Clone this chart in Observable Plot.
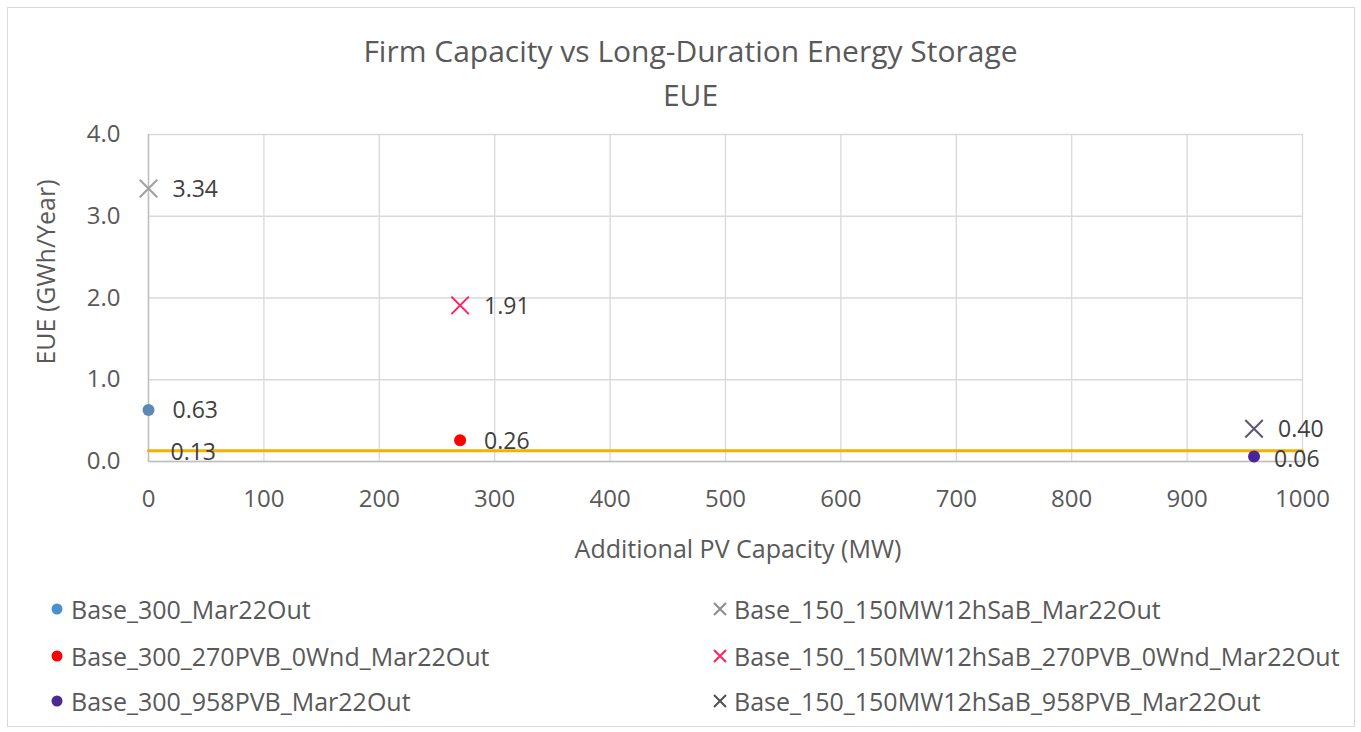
<!DOCTYPE html>
<html>
<head>
<meta charset="utf-8">
<script src="https://cdn.jsdelivr.net/npm/d3@7"></script>
<script src="https://cdn.jsdelivr.net/npm/@observablehq/plot@0.6"></script>
<style>
  html, body { margin: 0; padding: 0; background: #fff; }
  #wrap { position: relative; width: 1361px; height: 732px; font-family: "Open Sans", sans-serif; overflow: hidden; }
  #border { position: absolute; left: 7px; top: 7px; width: 1346px; height: 718px; border: 1px solid #d9d9d9; }
  .title { position: absolute; left: 10px; width: 1361px; text-align: center; color: #595959; font-size: 30px; line-height: 1; white-space: nowrap; }
  #chart { position: absolute; left: 0; top: 110px; }
  #legend { position: absolute; left: 0; top: 592px; width: 1361px; }
  .item { position: absolute; display: flex; align-items: center; font-size: 25px; color: #595959; white-space: nowrap; }
  .item svg { margin-right: 2px; }
  .axlabel { position: absolute; font-size: 25px; color: #595959; white-space: nowrap; line-height: 1; }
</style>
</head>
<body>
<div id="wrap">
  <div id="border"></div>
  <div class="title" id="t1" style="top:36px"></div>
  <div class="title" id="t2" style="top:80px"></div>
  <div id="chart"></div>
  <div class="axlabel" id="xl"></div>
  <div class="axlabel" id="yl"></div>
  <div id="legend"></div>
</div>
<script>
// ---- data ----
const titleLine1 = "Firm Capacity vs Long-Duration Energy Storage";
const titleLine2 = "EUE";
const xLabel = "Additional PV Capacity (MW)";
const yLabel = "EUE (GWh/Year)";

const seriesNames = [
  "Base_300_Mar22Out",
  "Base_300_270PVB_0Wnd_Mar22Out",
  "Base_300_958PVB_Mar22Out",
  "Base_150_150MW12hSaB_Mar22Out",
  "Base_150_150MW12hSaB_270PVB_0Wnd_Mar22Out",
  "Base_150_150MW12hSaB_958PVB_Mar22Out"
];
const seriesX = [0, 270, 958, 0, 270, 958];
const seriesY = [0.63, 0.26, 0.06, 3.34, 1.91, 0.40];
const seriesLabels = ["0.63", "0.26", "0.06", "3.34", "1.91", "0.40"];
const seriesSymbols = ["circle", "circle", "circle", "times", "times", "times"];
const seriesColors = ["#5b88b5", "#ff0000", "#4a2499", "#a0a0a0", "#ff2060", "#5f5478"];
const legendColors = ["#4a90d0", "#ff0000", "#4a2a90", "#8c8c8c", "#ff2060", "#505050"];

const refLineX = [0, 1000];
const refLineY = [0.13, 0.13];
const refLineLabel = "0.13";

const xTicks = [0, 100, 200, 300, 400, 500, 600, 700, 800, 900, 1000];
const yTicks = [0, 1, 2, 3, 4];

// ---- build ----
document.getElementById("t1").textContent = titleLine1;
document.getElementById("t2").textContent = titleLine2;

const points = seriesNames.map((name, i) => ({
  name, x: seriesX[i], y: seriesY[i], label: seriesLabels[i],
  symbol: seriesSymbols[i], color: seriesColors[i]
}));
const circles = points.filter(d => d.symbol === "circle");
const crosses = points.filter(d => d.symbol === "times");
const highLabels = points.filter(d => d.y >= 0.1);
const lowLabels = points.filter(d => d.y < 0.1);
const refLine = refLineX.map((x, i) => ({x, y: refLineY[i]}));

const chart = Plot.plot({
  width: 1361,
  height: 460,
  marginLeft: 148,
  marginRight: 59,
  marginTop: 24,
  marginBottom: 109,
  style: {fontFamily: "Open Sans, sans-serif", color: "#595959", background: "transparent", overflow: "visible"},
  x: {domain: [0, 1000]},
  y: {domain: [0, 4]},
  marks: [
    Plot.gridX(xTicks, {stroke: "#d9d9d9", strokeOpacity: 1, strokeWidth: 1.3}),
    Plot.gridY(yTicks, {stroke: "#d9d9d9", strokeOpacity: 1, strokeWidth: 1.3}),
    Plot.ruleY([0], {stroke: "#bfbfbf", strokeWidth: 1.5}),
    Plot.ruleX([0], {stroke: "#bfbfbf", strokeWidth: 1.5}),
    Plot.axisX({ticks: xTicks, tickSize: 0, tickPadding: 28, fontSize: 24, tickFormat: d => String(d), label: null}),
    Plot.axisY({ticks: yTicks, tickSize: 0, tickPadding: 28, fontSize: 24, tickFormat: d => d.toFixed(1), label: null}),
    Plot.line(refLine, {x: "x", y: "y", stroke: "#f5b000", strokeWidth: 3}),
    Plot.text([refLine[0]], {x: "x", y: "y", text: () => refLineLabel, textAnchor: "start", dx: 22, dy: 2, fontSize: 23, fill: "#404040"}),
    Plot.dot(circles, {x: "x", y: "y", r: 6, fill: "color", stroke: "none", symbol: "circle"}),
    Plot.dot(crosses, {x: "x", y: "y", r: 8, stroke: "color", strokeWidth: 2, symbol: "times"}),
    Plot.text(highLabels, {x: "x", y: "y", text: "label", textAnchor: "start", dx: 24, dy: 1, fontSize: 23, fill: "#404040"}),
    Plot.text(lowLabels, {x: "x", y: "y", text: "label", textAnchor: "start", dx: 20, dy: 3, fontSize: 23, fill: "#404040"})
  ]
});
document.getElementById("chart").appendChild(chart);

// axis titles
const xl = document.getElementById("xl");
xl.textContent = xLabel;
xl.style.left = "738px"; xl.style.top = "548px";
xl.style.transform = "translate(-50%, -50%)";
const yl = document.getElementById("yl");
yl.textContent = yLabel;
yl.style.left = "45px"; yl.style.top = "272px";
yl.style.transform = "translate(-50%, -50%) rotate(-90deg)";

// legend
const legend = document.getElementById("legend");
const legendPos = [
  [45, 0], [45, 47], [45, 92], [708, 0], [708, 47], [708, 92]
];
seriesNames.forEach((name, i) => {
  const item = document.createElement("div");
  item.className = "item";
  item.style.left = legendPos[i][0] + "px";
  item.style.top = legendPos[i][1] + "px";
  const s = d3.create("svg").attr("width", 24).attr("height", 24);
  if (seriesSymbols[i] === "circle") {
    s.append("circle").attr("cx", 12).attr("cy", 12).attr("r", 5.5).attr("fill", legendColors[i]);
  } else {
    s.append("path").attr("d", "M6,6L18,18M18,6L6,18").attr("stroke", legendColors[i]).attr("stroke-width", 2).attr("fill", "none");
  }
  item.appendChild(s.node());
  const t = document.createElement("span");
  t.textContent = name;
  item.appendChild(t);
  legend.appendChild(item);
});
</script>
</body>
</html>
